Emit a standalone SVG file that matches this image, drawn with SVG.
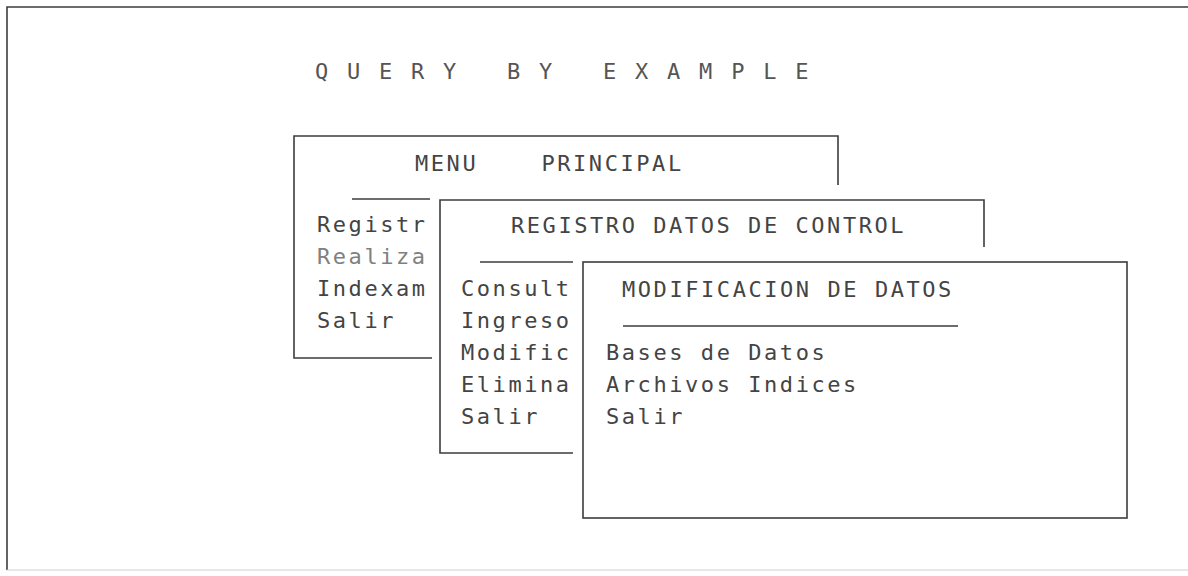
<svg xmlns="http://www.w3.org/2000/svg" width="1188" height="576" viewBox="0 0 1188 576">
<style>
.ln{fill:none;stroke:#3c3c3c;stroke-width:1.6}
.faint{fill:none;stroke:#cfcfcf;stroke-width:1.2}
.t{font-family:"DejaVu Sans Mono","Liberation Mono",monospace;font-size:22px;letter-spacing:2.56px;fill:#444}
.lt{fill:#808080}
.ttl{font-family:"DejaVu Sans Mono","Liberation Mono",monospace;font-size:22px;letter-spacing:2.76px;fill:#555}
</style>
<rect width="1188" height="576" fill="#fff"/>
<g id="frame">
<polyline class="ln" points="7,570 7,7 1188,7"/>
<line class="faint" x1="7" y1="570" x2="1188" y2="570"/>
</g>
<g id="title">
<text class="ttl" x="315" y="79" xml:space="preserve">Q U E R Y   B Y   E X A M P L E</text>
</g>
<g id="menu-principal">
<polyline class="ln" points="432,358 294,358 294,136 838,136 838,185"/>
<line class="ln" x1="352" y1="199" x2="430" y2="199"/>
<text class="t" x="415" y="171" xml:space="preserve">MENU    PRINCIPAL</text>
<text class="t" x="317" y="232">Registr</text>
<text class="t lt" x="317" y="264">Realiza</text>
<text class="t" x="317" y="296">Indexam</text>
<text class="t" x="317" y="328">Salir</text>
</g>
<g id="registro-datos">
<polyline class="ln" points="573,453 440,453 440,200 984,200 984,247"/>
<line class="ln" x1="480" y1="262" x2="573" y2="262"/>
<text class="t" x="511" y="233">REGISTRO DATOS DE CONTROL</text>
<text class="t" x="461" y="296">Consult</text>
<text class="t" x="461" y="328">Ingreso</text>
<text class="t" x="461" y="360">Modific</text>
<text class="t" x="461" y="392">Elimina</text>
<text class="t" x="461" y="424">Salir</text>
</g>
<g id="modificacion-datos">
<rect class="ln" x="583" y="262" width="544" height="256"/>
<line class="ln" x1="623" y1="326" x2="958" y2="326"/>
<text class="t" x="622" y="297">MODIFICACION DE DATOS</text>
<text class="t" x="606" y="360">Bases de Datos</text>
<text class="t" x="606" y="392">Archivos Indices</text>
<text class="t" x="606" y="424">Salir</text>
</g>
</svg>
